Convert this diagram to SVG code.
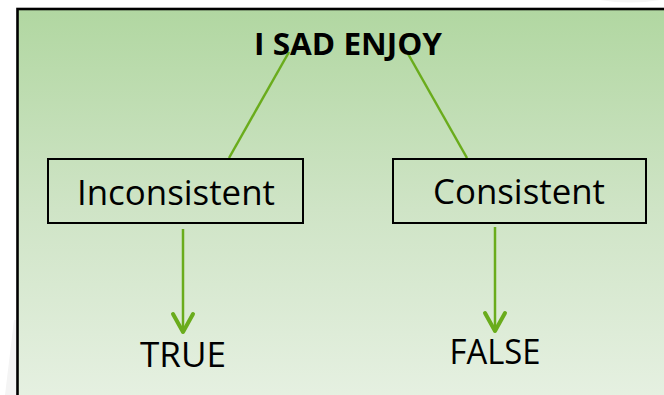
<svg xmlns="http://www.w3.org/2000/svg" width="664" height="395" viewBox="0 0 664 395">
  <defs>
    <linearGradient id="panelFill" x1="0" y1="0" x2="0" y2="1">
      <stop offset="0" stop-color="#b1d7a1"/>
      <stop offset="0.5" stop-color="#cfe4c6"/>
      <stop offset="1" stop-color="#e7f1e3"/>
    </linearGradient>
    <!-- open chevron head, drawn along +x so orient="auto" follows the line -->
    <marker id="chevron" viewBox="0 0 24 26" refX="21" refY="13" markerWidth="24" markerHeight="26" markerUnits="userSpaceOnUse" orient="auto">
      <path d="M3 3 L21 13 L3 23" fill="none" stroke="#6aac1c" stroke-width="4" stroke-linecap="round" stroke-linejoin="round"/>
    </marker>
    <style>
      .box { fill: none; stroke: #000; stroke-width: 2; }
      .label { font-family: "Open Sans", "Liberation Sans", Arial, sans-serif; font-size: 35px; fill: #000; text-anchor: middle; }
      .title { font-family: "Open Sans", "Liberation Sans", Arial, sans-serif; font-size: 31px; font-weight: bold; fill: #000; text-anchor: middle; }
      .link { stroke: #6aac1c; stroke-width: 2.5; fill: none; }
    </style>
  </defs>

  <!-- page and faint background shapes -->
  <rect x="0" y="0" width="664" height="395" fill="#ffffff"/>
  <polygon points="14,320 17,320 17,395 5,395" fill="#f4f4f4"/>
  <path d="M600 0 Q630 5 660 0 Z" fill="#f4f4f4"/>

  <!-- framed panel -->
  <rect x="17.5" y="9" width="660" height="400" fill="url(#panelFill)" stroke="#000" stroke-width="2.6"/>

  <!-- connectors -->
  <g id="connectors">
    <line class="link" x1="289" y1="52" x2="229" y2="158"/>
    <line class="link" x1="407" y1="52" x2="467" y2="158"/>
    <line class="link" x1="183" y1="229" x2="183" y2="332" marker-end="url(#chevron)"/>
    <line class="link" x1="495" y1="227" x2="495" y2="331" marker-end="url(#chevron)"/>
  </g>

  <g id="root">
    <text class="title" x="348" y="55" textLength="188" lengthAdjust="spacingAndGlyphs">I SAD ENJOY</text>
  </g>

  <g id="inconsistent">
    <rect class="box" x="48" y="159" width="255" height="64"/>
    <text class="label" x="176" y="205" textLength="198" lengthAdjust="spacingAndGlyphs">Inconsistent</text>
  </g>

  <g id="consistent">
    <rect class="box" x="393" y="159" width="253" height="64"/>
    <text class="label" x="519" y="204" textLength="172" lengthAdjust="spacingAndGlyphs">Consistent</text>
  </g>

  <g id="true">
    <text class="label" x="183" y="367" textLength="86" lengthAdjust="spacingAndGlyphs">TRUE</text>
  </g>

  <g id="false">
    <text class="label" x="495" y="364" textLength="91" lengthAdjust="spacingAndGlyphs">FALSE</text>
  </g>
</svg>
